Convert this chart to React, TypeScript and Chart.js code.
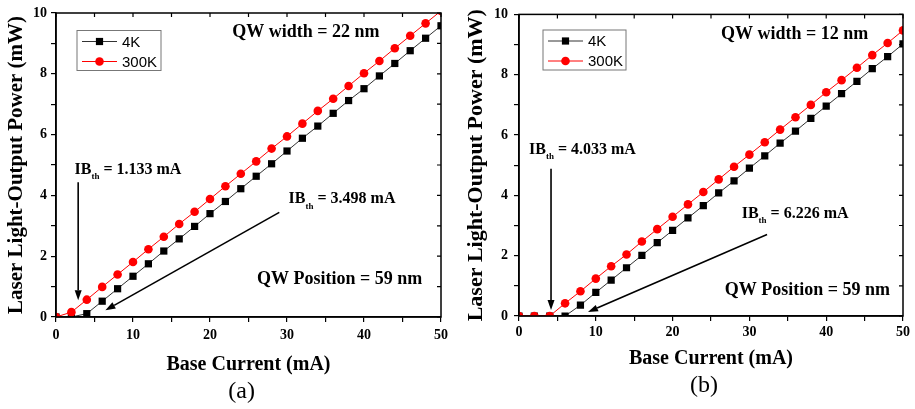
import React, { useEffect, useRef } from "react";
import { Chart, registerables } from "chart.js";

Chart.register(...registerables);

// ---------- data ----------
const currents = [0, 2, 4, 6, 8, 10, 12, 14, 16, 18, 20, 22, 24, 26, 28, 30, 32, 34, 36, 38, 40, 42, 44, 46, 48, 50];

const powerA4K = [0, 0, 0.11, 0.52, 0.93, 1.34, 1.75, 2.17, 2.57, 2.98, 3.4, 3.8, 4.22, 4.63, 5.04, 5.46, 5.88, 6.28, 6.7, 7.12, 7.51, 7.93, 8.34, 8.76, 9.17, 9.58];
const powerA300K = [0, 0.16, 0.57, 0.99, 1.4, 1.81, 2.23, 2.64, 3.06, 3.46, 3.88, 4.3, 4.71, 5.12, 5.54, 5.94, 6.36, 6.78, 7.18, 7.6, 8.02, 8.42, 8.84, 9.25, 9.66, 10.07];

const powerB4K = [0, 0, 0, 0, 0.36, 0.78, 1.19, 1.6, 2.01, 2.43, 2.84, 3.25, 3.66, 4.08, 4.48, 4.9, 5.31, 5.73, 6.13, 6.55, 6.96, 7.37, 7.78, 8.2, 8.6, 9.02];
const powerB300K = [0, 0, 0, 0.42, 0.82, 1.24, 1.65, 2.04, 2.47, 2.88, 3.29, 3.7, 4.11, 4.53, 4.95, 5.35, 5.76, 6.18, 6.59, 7.0, 7.42, 7.82, 8.23, 8.65, 9.05, 9.47];

const seriesLabels = ["4K", "300K"];
const xTitle = "Base Current (mA)";
const yTitle = "Laser Light-Output Power (mW)";
const xTickLabels = [0, 10, 20, 30, 40, 50];
const yTickLabels = [0, 2, 4, 6, 8, 10];

const thresholdsA = ["1.133 mA", "3.498 mA"];
const thresholdsB = ["4.033 mA", "6.226 mA"];
const widthTextA = "QW width = 22 nm";
const widthTextB = "QW width = 12 nm";
const positionText = "QW Position = 59 nm";

// ---------- styles / layout ----------
const SERIF = '"Liberation Serif", "Times New Roman", serif';
const SANS = '"Liberation Sans", Arial, sans-serif';
const BLACK_LINE = "#333333";
const RED = "#ff0000";

type Panel = {
  left: number;
  width: number;
  p4K: number[];
  p300K: number[];
  padding: { left: number; right: number; top: number; bottom: number };
  yAxisWidth: number;
  xAxisHeight: number;
  xTickPad: number;
  yTickPad: number;
  xTitlePad: number;
  yTitlePad: number;
  yTitleSize: number;
  legendBox: { x: number; y: number; w: number; h: number };
  widthText: string;
  widthPos: [number, number];
  positionPos: [number, number];
  th1: string;
  th1Pos: [number, number];
  arrow1: [number, number, number, number];
  th2: string;
  th2Pos: [number, number];
  arrow2: [number, number, number, number];
  panelLabel: string;
  panelLabelX: number;
  panelLabelDy: number;
};

const panels: Panel[] = [
  {
    left: 0,
    width: 457,
    p4K: powerA4K,
    p300K: powerA300K,
    padding: { left: 0, right: 16, top: 13, bottom: 30 },
    yAxisWidth: 56,
    xAxisHeight: 62,
    xTickPad: 5,
    yTickPad: 4,
    xTitlePad: 2,
    yTitlePad: 4,
    yTitleSize: 21,
    legendBox: { x: 77, y: 30.5, w: 84, h: 40 },
    widthText: widthTextA,
    widthPos: [22.9, 9.37],
    positionPos: [26.1, 1.24],
    th1: thresholdsA[0],
    th1Pos: [2.4, 4.84],
    arrow1: [2.88, 4.43, 2.88, 0.55],
    th2: thresholdsA[1],
    th2Pos: [30.2, 3.87],
    arrow2: [29.0, 3.44, 6.42, 0.22],
    panelLabel: "(a)",
    panelLabelX: 24.1,
    panelLabelDy: 75,
  },
  {
    left: 457,
    width: 458,
    p4K: powerB4K,
    p300K: powerB300K,
    padding: { left: 0, right: 12, top: 13, bottom: 30 },
    yAxisWidth: 62,
    xAxisHeight: 63,
    xTickPad: 3,
    yTickPad: 6,
    xTitlePad: 8,
    yTitlePad: 6,
    yTitleSize: 22,
    legendBox: { x: 543 - 457, y: 30, w: 83, h: 40 },
    widthText: widthTextB,
    widthPos: [26.3, 9.33],
    positionPos: [26.8, 0.86],
    th1: thresholdsB[0],
    th1Pos: [1.3, 5.5],
    arrow1: [4.17, 4.88, 4.17, 0.2],
    th2: thresholdsB[1],
    th2Pos: [29.0, 3.4],
    arrow2: [32.3, 2.7, 8.98, 0.13],
    panelLabel: "(b)",
    panelLabelX: 24.1,
    panelLabelDy: 70,
  },
];

function drawArrow(ctx: CanvasRenderingContext2D, x0: number, y0: number, x1: number, y1: number) {
  const ang = Math.atan2(y1 - y0, x1 - x0);
  const len = 10;
  const hw = 3.5;
  const bx = x1 - len * Math.cos(ang);
  const by = y1 - len * Math.sin(ang);
  ctx.save();
  ctx.strokeStyle = "#000";
  ctx.fillStyle = "#000";
  ctx.lineWidth = 1.6;
  ctx.beginPath();
  ctx.moveTo(x0, y0);
  ctx.lineTo(bx, by);
  ctx.stroke();
  ctx.beginPath();
  ctx.moveTo(x1, y1);
  ctx.lineTo(bx + hw * Math.sin(ang), by - hw * Math.cos(ang));
  ctx.lineTo(bx - hw * Math.sin(ang), by + hw * Math.cos(ang));
  ctx.closePath();
  ctx.fill();
  ctx.restore();
}

function drawThreshold(ctx: CanvasRenderingContext2D, x: number, y: number, value: string) {
  ctx.save();
  ctx.fillStyle = "#000";
  ctx.textBaseline = "middle";
  ctx.textAlign = "left";
  ctx.font = `bold 16px ${SERIF}`;
  ctx.fillText("IB", x, y);
  let cx = x + ctx.measureText("IB").width;
  ctx.font = `bold 9px ${SERIF}`;
  ctx.fillText("th", cx, y + 7);
  cx += ctx.measureText("th").width;
  ctx.font = `bold 16px ${SERIF}`;
  ctx.fillText(" = " + value, cx, y);
  ctx.restore();
}

function makeDecorPlugin(panel: Panel) {
  return {
    id: "decor",
    afterDraw(chart: any) {
      const ctx: CanvasRenderingContext2D = chart.ctx;
      const { left, right, top, bottom } = chart.chartArea;
      const xs = chart.scales.x;
      const ys = chart.scales.y;
      const px = (v: number) => xs.getPixelForValue(v);
      const py = (v: number) => ys.getPixelForValue(v);

      ctx.save();
      // frame
      ctx.strokeStyle = "#000";
      ctx.lineWidth = 1.5;
      ctx.strokeRect(left, top, right - left, bottom - top);
      // mirror ticks (inward) on top and right
      ctx.lineWidth = 1.2;
      ctx.beginPath();
      xs.ticks.forEach((t: any) => {
        const x = px(t.value);
        ctx.moveTo(x, top);
        ctx.lineTo(x, top + 4);
      });
      ys.ticks.forEach((t: any) => {
        const y = py(t.value);
        ctx.moveTo(right, y);
        ctx.lineTo(right - 4, y);
      });
      ctx.stroke();

      // legend
      const lb = panel.legendBox;
      ctx.strokeStyle = "#777";
      ctx.lineWidth = 1;
      ctx.strokeRect(lb.x, lb.y, lb.w, lb.h);
      const ds = chart.data.datasets;
      const order = [0, 1];
      order.forEach((i, row) => {
        const d = ds[i];
        const ry = lb.y + 11 + row * 20;
        const lx0 = lb.x + 5;
        const lx1 = lb.x + 40;
        ctx.strokeStyle = d.borderColor;
        ctx.lineWidth = 1;
        ctx.beginPath();
        ctx.moveTo(lx0, ry);
        ctx.lineTo(lx1, ry);
        ctx.stroke();
        ctx.fillStyle = d.pointBackgroundColor;
        const mx = (lx0 + lx1) / 2;
        if (d.pointStyle === "rect") {
          ctx.fillRect(mx - 3.6, ry - 3.6, 7.2, 7.2);
        } else {
          ctx.beginPath();
          ctx.arc(mx, ry, 4.3, 0, Math.PI * 2);
          ctx.fill();
        }
        ctx.fillStyle = "#000";
        ctx.font = `15px ${SANS}`;
        ctx.textBaseline = "middle";
        ctx.textAlign = "left";
        ctx.fillText(d.label, lx1 + 5, ry + 1);
      });

      // annotations
      ctx.fillStyle = "#000";
      ctx.font = `bold 18px ${SERIF}`;
      ctx.textBaseline = "middle";
      ctx.textAlign = "left";
      ctx.fillText(panel.widthText, px(panel.widthPos[0]), py(panel.widthPos[1]));
      ctx.fillText(positionText, px(panel.positionPos[0]), py(panel.positionPos[1]));

      drawThreshold(ctx, px(panel.th1Pos[0]), py(panel.th1Pos[1]), panel.th1);
      drawThreshold(ctx, px(panel.th2Pos[0]), py(panel.th2Pos[1]), panel.th2);
      const a1 = panel.arrow1;
      drawArrow(ctx, px(a1[0]), py(a1[1]), px(a1[2]), py(a1[3]));
      const a2 = panel.arrow2;
      drawArrow(ctx, px(a2[0]), py(a2[1]), px(a2[2]), py(a2[3]));

      // panel label
      ctx.font = `24px ${SERIF}`;
      ctx.textAlign = "center";
      ctx.fillText(panel.panelLabel, px(panel.panelLabelX), bottom + panel.panelLabelDy);
      ctx.restore();
    },
  };
}

function PanelChart({ panel }: { panel: Panel }) {
  const ref = useRef<HTMLCanvasElement | null>(null);
  useEffect(() => {
    if (!ref.current) return;
    const chart = new Chart(ref.current, {
      type: "line",
      data: {
        datasets: [
          {
            label: seriesLabels[0],
            data: currents.map((c, i) => ({ x: c, y: panel.p4K[i] })),
            borderColor: BLACK_LINE,
            borderWidth: 1,
            pointStyle: "rect",
            pointRadius: 5.1,
            pointBackgroundColor: "#000",
            pointBorderWidth: 0,
            pointBorderColor: "#000",
            order: 1,
            clip: 0,
          },
          {
            label: seriesLabels[1],
            data: currents.map((c, i) => ({ x: c, y: panel.p300K[i] })),
            borderColor: RED,
            borderWidth: 1,
            pointStyle: "circle",
            pointRadius: 4.3,
            pointBackgroundColor: RED,
            pointBorderWidth: 0,
            pointBorderColor: RED,
            order: 0,
            clip: 0,
          },
        ] as any,
      },
      options: {
        animation: false,
        responsive: false,
        maintainAspectRatio: false,
        devicePixelRatio: 1,
        layout: { padding: panel.padding },
        plugins: { legend: { display: false }, tooltip: { enabled: false } },
        scales: {
          x: {
            type: "linear",
            min: 0,
            max: 50,
            afterFit: (s: any) => {
              s.height = panel.xAxisHeight;
            },
            ticks: {
              stepSize: 5,
              autoSkip: false,
              maxRotation: 0,
              padding: panel.xTickPad,
              color: "#000",
              font: { family: SERIF, size: 14, weight: "bold" },
              callback: (v: any) => (xTickLabels.includes(Number(v)) ? String(v) : ""),
            },
            grid: { display: true, drawOnChartArea: false, drawTicks: true, tickLength: 5, color: "#000", lineWidth: 1.2 },
            border: { display: true, color: "#000", width: 1.5 },
            title: {
              display: true,
              text: xTitle,
              color: "#000",
              font: { family: SERIF, size: 20, weight: "bold" },
              padding: { top: 0, bottom: panel.xTitlePad },
            },
          },
          y: {
            type: "linear",
            min: 0,
            max: 10,
            afterFit: (s: any) => {
              s.width = panel.yAxisWidth;
            },
            ticks: {
              stepSize: 1,
              autoSkip: false,
              padding: panel.yTickPad,
              color: "#000",
              font: { family: SERIF, size: 14, weight: "bold" },
              callback: (v: any) => (yTickLabels.includes(Number(v)) ? String(v) : ""),
            },
            grid: { display: true, drawOnChartArea: false, drawTicks: true, tickLength: 5, color: "#000", lineWidth: 1.2 },
            border: { display: true, color: "#000", width: 1.5 },
            title: {
              display: true,
              text: yTitle,
              color: "#000",
              font: { family: SERIF, size: panel.yTitleSize, weight: "bold" },
              padding: { top: panel.yTitlePad, bottom: 0 },
            },
          },
        },
      } as any,
      plugins: [makeDecorPlugin(panel)],
    });
    return () => chart.destroy();
  }, [panel]);

  return (
    <canvas
      ref={ref}
      width={panel.width}
      height={409}
      style={{ position: "absolute", left: panel.left, top: 0, width: panel.width, height: 409 }}
    />
  );
}

export default function App() {
  return (
    <div style={{ position: "fixed", left: 0, top: 0, width: 915, height: 409, background: "#fff" }}>
      {panels.map((p, i) => (
        <PanelChart key={i} panel={p} />
      ))}
    </div>
  );
}
